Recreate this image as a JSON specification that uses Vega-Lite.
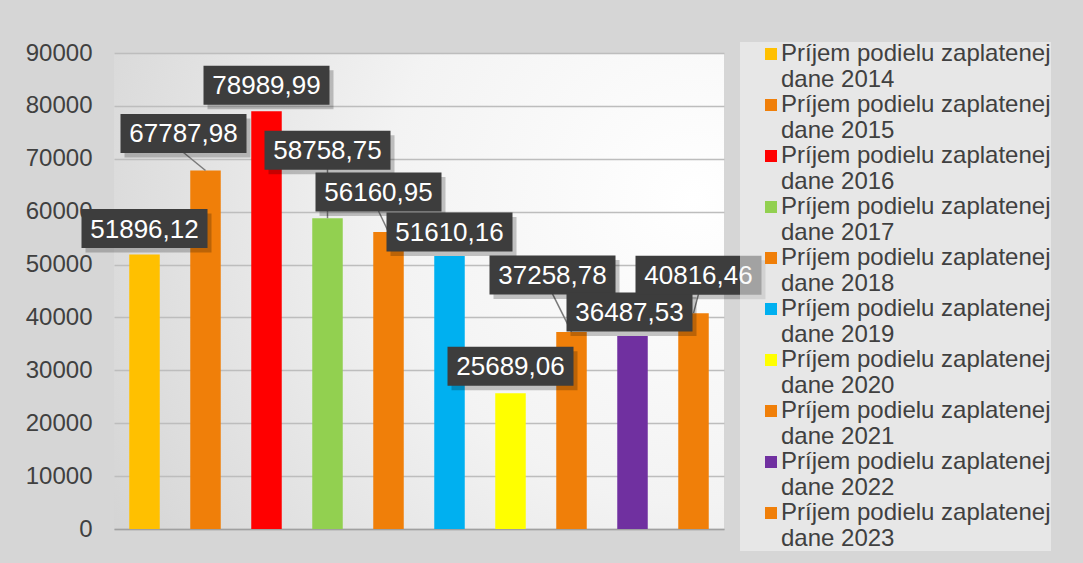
{
  "$schema": "https://vega.github.io/schema/vega-lite/v6.json",
  "width": 610,
  "height": 476,
  "autosize": {"type": "none"},
  "padding": {"left": 114, "top": 53, "right": 359, "bottom": 34},
  "background": "#d6d6d6",
  "config": {
    "font": "Liberation Sans",
    "locale": {"number": {"decimal": ",", "thousands": " ", "grouping": [3], "currency": ["", ""]}},
    "axis": {"labelFontSize": 24, "labelFont": "Liberation Sans"},
    "view": {
      "stroke": null,
      "fill": {
        "gradient": "radial",
        "x1": 0.95, "y1": 0.35, "r1": 0,
        "x2": 0.95, "y2": 0.35, "r2": 1.1,
        "stops": [
          {"offset": 0, "color": "#ffffff"},
          {"offset": 0.45, "color": "#f3f3f3"},
          {"offset": 1, "color": "#d4d4d4"}
        ]
      }
    }
  },
  "data": {
    "values": [
      {"year": "2014", "value": 51896.12},
      {"year": "2015", "value": 67787.98},
      {"year": "2016", "value": 78989.99},
      {"year": "2017", "value": 58758.75},
      {"year": "2018", "value": 56160.95},
      {"year": "2019", "value": 51610.16},
      {"year": "2020", "value": 25689.06},
      {"year": "2021", "value": 37258.78},
      {"year": "2022", "value": 36487.53},
      {"year": "2023", "value": 40816.46}
    ]
  },
  "encoding": {
    "x": {
      "field": "year",
      "type": "nominal",
      "scale": {"paddingInner": 0.5, "paddingOuter": 0.25},
      "axis": {"labels": false, "ticks": false, "title": null, "domainColor": "#a0a0a0", "domainWidth": 1.5}
    },
    "y": {
      "field": "value",
      "type": "quantitative",
      "scale": {"domain": [0, 90000], "nice": false},
      "axis": {
        "title": null,
        "domain": false,
        "ticks": false,
        "values": [0, 10000, 20000, 30000, 40000, 50000, 60000, 70000, 80000, 90000],
        "format": "d",
        "labelFontSize": 24,
        "labelColor": "#404040",
        "labelPadding": 22,
        "gridColor": "#bdbdbd",
        "gridWidth": 1.5
      }
    }
  },
  "layer": [
    {
      "mark": {"type": "bar"},
      "encoding": {
        "color": {
          "field": "year",
          "type": "nominal",
          "scale": {
            "domain": ["2014", "2015", "2016", "2017", "2018", "2019", "2020", "2021", "2022", "2023"],
            "range": ["#FFC000", "#F07F09", "#FF0000", "#92D050", "#F07F09", "#00B0F0", "#FFFF00", "#F07F09", "#7030A0", "#F07F09"]
          },
          "legend": {
            "orient": "none",
            "legendX": 626,
            "legendY": -11,
            "title": null,
            "fillColor": "rgba(246,246,246,0.55)",
            "padding": 0,
            "symbolType": "square",
            "symbolSize": 144,
            "symbolStrokeWidth": 0,
            "symbolOffset": 19,
            "labelOffset": -2,
            "labelFontSize": 24,
            "labelColor": "#404040",
            "labelFont": "Liberation Sans",
            "labelLimit": 500,
            "rowPadding": 1,
            "labelExpr": "['Príjem podielu zaplatenej   ', 'dane ' + datum.label]"
          }
        }
      }
    },
    {
      "transform": [{"filter": "indexof(['2015','2017','2018','2021','2023'], datum.year) >= 0"}],
      "mark": {
        "type": "rule",
        "color": "#7a7a7a",
        "strokeWidth": 1.5,
        "xOffset": {"expr": "datum.year=='2015'?-22:datum.year=='2018'?-10:datum.year=='2021'?-19:datum.year=='2022'?-3:datum.year=='2023'?5:0"},
        "yOffset": {"expr": "(datum.year=='2015'?-37:datum.year=='2017'?-68:datum.year=='2018'?-40:datum.year=='2019'?-24:datum.year=='2020'?-27:datum.year=='2021'?-57:datum.year=='2022'?-24:datum.year=='2023'?-38:-26)+19"}
      },
      "encoding": {
        "x2": {"field": "year"},
        "y2": {"field": "value"}
      }
    },
    {
      "mark": {
        "type": "point",
        "shape": "M-62,-18h126v39h-126z",
        "size": 4,
        "filled": true,
        "fill": "#000000",
        "opacity": 0.22,
        "strokeWidth": 0,
        "xOffset": {"expr": "(datum.year=='2015'?-22:datum.year=='2018'?-10:datum.year=='2021'?-19:datum.year=='2022'?-3:datum.year=='2023'?5:0)+3"},
        "yOffset": {"expr": "(datum.year=='2015'?-37:datum.year=='2017'?-68:datum.year=='2018'?-40:datum.year=='2019'?-24:datum.year=='2020'?-27:datum.year=='2021'?-57:datum.year=='2022'?-24:datum.year=='2023'?-38:-26)+3"}
      }
    },
    {
      "mark": {
        "type": "point",
        "shape": "M-63,-19.5h126v39h-126z",
        "size": 4,
        "filled": true,
        "fill": "#3d3d3d",
        "opacity": 1,
        "strokeWidth": 0,
        "xOffset": {"expr": "datum.year=='2015'?-22:datum.year=='2018'?-10:datum.year=='2021'?-19:datum.year=='2022'?-3:datum.year=='2023'?5:0"},
        "yOffset": {"expr": "datum.year=='2015'?-37:datum.year=='2017'?-68:datum.year=='2018'?-40:datum.year=='2019'?-24:datum.year=='2020'?-27:datum.year=='2021'?-57:datum.year=='2022'?-24:datum.year=='2023'?-38:-26"}
      }
    },
    {
      "mark": {
        "type": "text",
        "font": "Liberation Sans",
        "fontSize": 26,
        "color": "#ffffff",
        "align": "center",
        "baseline": "middle",
        "xOffset": {"expr": "datum.year=='2015'?-22:datum.year=='2018'?-10:datum.year=='2021'?-19:datum.year=='2022'?-3:datum.year=='2023'?5:0"},
        "yOffset": {"expr": "(datum.year=='2015'?-37:datum.year=='2017'?-68:datum.year=='2018'?-40:datum.year=='2019'?-24:datum.year=='2020'?-27:datum.year=='2021'?-57:datum.year=='2022'?-24:datum.year=='2023'?-38:-26)+1"}
      },
      "encoding": {
        "text": {"field": "value", "type": "quantitative", "format": ".2f"}
      }
    }
  ]
}
